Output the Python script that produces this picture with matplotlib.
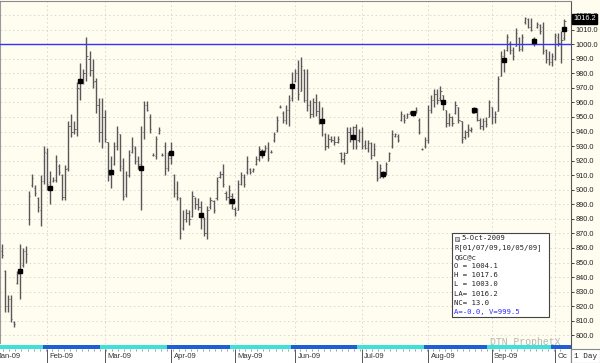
import matplotlib
matplotlib.use("Agg")
import matplotlib.pyplot as plt
import matplotlib.transforms as mtransforms
from matplotlib.patches import Rectangle
import numpy as np
import pandas as pd

# QGC@c daily bars, R[01/07/09,10/05/09]
holidays = ["2009-01-19", "2009-02-16", "2009-04-10", "2009-05-25", "2009-07-03", "2009-09-07"]

opens = [858, 858, 844, 820, 825, 809, 836, 842, 848, 858,
         880, 903, 901, 894, 886, 906, 925, 905, 906, 907,
         916, 910, 895, 915, 944, 940, 942, 969, 976, 980,
         990, 982, 975, 958, 940, 950, 933, 910, 918, 930,
         938, 915, 897, 910, 926, 929, 920, 918, 940, 958,
         950, 924, 923, 939, 924, 930, 915, 922, 910, 898,
         894, 874, 880, 884, 882, 894, 890, 888, 880, 870,
         888, 892, 894, 909, 911, 898, 895, 896, 887, 886,
         904, 909, 912, 914, 913, 918, 921, 927, 927, 929,
         926, 934, 941, 957, 953, 948, 955, 963, 975, 980,
         968, 982, 962, 958, 952, 960, 954, 948, 938, 930,
         935, 934, 933, 925, 921, 925, 940, 936, 943, 934,
         940, 931, 929, 932, 924, 920, 909, 912, 911, 920,
         930, 937, 937, 948, 951, 949, 952, 953, 953, 948,
         928, 930, 934, 955, 962, 966, 963, 965, 955, 946,
         950, 953, 957, 947, 936, 940, 941, 953, 955, 948,
         944, 947, 950, 957, 950, 954, 978, 992, 996, 1001,
         996, 999, 1004, 997, 1015, 1017, 1012, 1004, 1012, 1013,
         1012, 996, 990, 988, 990, 1005, 1000, 1004.1]

highs = [866, 863, 845, 828, 828, 810, 844, 863, 860, 861,
         899, 911, 903, 895, 910, 930, 929, 913, 909, 924,
         918, 911, 917, 947, 952, 947, 974, 987, 983, 1005,
         995, 990, 977, 963, 963, 955, 933, 923, 933, 944,
         938, 922, 913, 927, 936, 930, 923, 944, 961, 961,
         952, 925, 937, 943, 925, 933, 926, 933, 911, 906,
         895, 886, 887, 886, 899, 895, 894, 892, 881, 889,
         895, 893, 909, 913, 918, 899, 903, 898, 888, 907,
         912, 911, 923, 915, 915, 923, 930, 928, 931, 933,
         927, 940, 951, 958, 954, 958, 965, 981, 983, 989,
         991, 983, 983, 962, 963, 966, 961, 957, 939, 938,
         937, 937, 937, 926, 926, 943, 943, 944, 945, 942,
         943, 934, 934, 933, 932, 920, 918, 913, 919, 926,
         941, 939, 938, 954, 952, 953, 954, 954, 957, 949,
         929, 936, 958, 965, 969, 969, 971, 965, 955, 953,
         951, 961, 957, 947, 941, 945, 943, 957, 956, 949,
         949, 950, 962, 957, 954, 978, 995, 997, 1007, 1002,
         998, 1011, 1005, 1007, 1019, 1018, 1018, 1005, 1015, 1014,
         1015, 997, 995, 994, 1008, 1008, 1009, 1017.6]

lows = [852, 853, 816, 816, 809, 806, 835, 825, 847, 850,
        876, 902, 896, 885, 875, 904, 900, 890, 905, 905,
        910, 893, 893, 913, 936, 938, 937, 962, 973, 975,
        978, 970, 953, 933, 929, 933, 906, 901, 917, 927,
        913, 893, 895, 909, 925, 918, 914, 886, 935, 954,
        939, 923, 921, 938, 923, 910, 913, 918, 895, 893,
        866, 872, 878, 876, 881, 887, 886, 873, 868, 866,
        887, 884, 893, 908, 902, 893, 890, 887, 882, 886,
        903, 902, 911, 911, 912, 917, 920, 922, 926, 920,
        925, 933, 940, 956, 946, 945, 944, 961, 974, 962,
        968, 960, 954, 949, 950, 951, 945, 937, 927, 929,
        933, 931, 932, 919, 918, 925, 933, 928, 928, 933,
        928, 928, 926, 921, 923, 906, 908, 908, 910, 920,
        929, 936, 933, 947, 946, 949, 952, 951, 953, 938,
        927, 929, 932, 953, 957, 959, 961, 955, 943, 944,
        944, 952, 946, 932, 935, 936, 940, 953, 947, 942,
        941, 943, 950, 945, 946, 954, 978, 981, 995, 993,
        989, 999, 995, 995, 1014, 1011, 1009, 999, 1011, 1007,
        993, 987, 986, 985, 989, 999, 987, 1003.0]

closes = [856, 855, 820, 825, 811, 808, 842, 844, 858, 856,
          896, 908, 898, 888, 906, 926, 904, 902, 907, 920,
          912, 895, 914, 944, 940, 942, 970, 975, 980, 992,
          982, 974, 958, 940, 950, 935, 910, 912, 930, 940,
          916, 896, 910, 924, 930, 920, 918, 914, 958, 955,
          942, 924, 935, 941, 924, 915, 922, 925, 898, 895,
          870, 880, 884, 880, 896, 890, 888, 884, 870, 886,
          893, 886, 906, 911, 904, 895, 900, 890, 884, 904,
          910, 904, 920, 912, 914, 921, 928, 925, 929, 922,
          926, 938, 948, 957, 948, 955, 962, 970, 980, 966,
          985, 962, 958, 952, 960, 954, 948, 946, 930, 935,
          934, 933, 935, 921, 924, 940, 936, 943, 930, 940,
          930, 929, 932, 924, 928, 908, 915, 911, 918, 925,
          938, 938, 934, 952, 948, 952, 953, 952, 955, 940,
          928, 934, 955, 962, 966, 962, 968, 960, 946, 950,
          946, 958, 948, 935, 940, 942, 942, 955, 948, 944,
          947, 945, 960, 950, 952, 976, 992, 990, 1005, 996,
          992, 1008, 997, 1005, 1018, 1012, 1010, 1001, 1014, 1009,
          995, 990, 988, 992, 1006, 1001, 1003, 1016.2]

dates = pd.bdate_range("2009-01-07", "2009-10-05", freq="C", holidays=holidays)
x = np.arange(len(dates))
o, h, l, c = map(np.array, (opens, highs, lows, closes))

W, H = 600, 363
bg = "#fffcf0"
bar_col = "#585858"
grid_kw = dict(color="#d6d6cc", linestyle=(0, (2, 3)), linewidth=0.6)
xlim = (0.4, 189.2)

fig = plt.figure(figsize=(W / 100, H / 100), dpi=100, facecolor=bg)
ax = fig.add_axes([0, 19 / H, 571 / W, 343 / H], facecolor=bg)

# month boundaries
starts = np.array([0] + [i for i in range(1, len(dates)) if dates[i].month != dates[i - 1].month])
bounds = starts - 1.0
labels = [dates[i].strftime("%b-%y") for i in starts]
labels[-1] = labels[-1][:2]  # cut off by the right edge in the source

# OHLC bars
ax.vlines(x, l, h, color=bar_col, lw=1.0)
ax.hlines(o, x - 0.4, x, color=bar_col, lw=0.6)
ax.hlines(c, x, x + 0.4, color=bar_col, lw=0.6)

# squares every 10th bar back from the last one, at the bar midpoint
sq = x[::-1][::10]
ax.plot(sq, (h[sq] + l[sq]) / 2, "s", color="black", ms=3.0, zorder=4)

ax.axhline(1000, color="#3333ff", lw=1.0, zorder=3)

ax.set_xlim(*xlim)
ax.set_ylim(794.0, 1029.7)
ax.set_yticks(np.arange(800, 1021, 10))
ax.yaxis.set_major_formatter(matplotlib.ticker.FormatStrFormatter("%.1f"))
ax.yaxis.tick_right()
ax.tick_params(axis="y", direction="out", length=2.5, width=0.6, pad=0.8,
               labelsize=5.3, colors="#222222")
for t in ax.get_yticklabels():
  t.set_family("Liberation Sans")
ax.set_xticks(bounds[1:])
ax.tick_params(axis="x", length=0, labelbottom=False)
ax.grid(True, **grid_kw)
ax.set_axisbelow(True)
ax.spines["bottom"].set_visible(False)
ax.spines["top"].set_color("#8a8a8a")
ax.spines["left"].set_color("#9a9a9a")
ax.spines["right"].set_color("#555555")
for s in ax.spines.values():
  s.set_linewidth(0.8)

# last price tag
trans = mtransforms.blended_transform_factory(ax.transAxes, ax.transData)
ax.text(1.004, c[-1] + 1.2, "%.1f" % c[-1], transform=trans, ha="left", va="center",
        fontsize=5.3, family="Liberation Sans", color="white", clip_on=False, zorder=6,
        bbox=dict(boxstyle="square,pad=0.15", fc="black", ec="black"))

# date axis with month strip
axd = fig.add_axes([0, 0, 571 / W, 19 / H], facecolor="white")
axd.set_xlim(*xlim)
axd.set_ylim(0, 19)
axd.set_xticks([])
axd.set_yticks([])
for name, s in axd.spines.items():
  s.set_visible(name == "right")
axd.spines["right"].set_color("#555555")
axd.spines["right"].set_linewidth(0.8)
axd.add_patch(Rectangle((xlim[0], 14), xlim[1] - xlim[0], 5, fc=bg, ec="none"))
strip_edges = list(starts - 2.5) + [x[-1] + 5]
for k in range(len(starts)):
  col = "#3ee0dc" if k % 2 == 0 else "#1f5fd6"
  axd.broken_barh([(strip_edges[k], strip_edges[k + 1] - strip_edges[k])], (14, 4),
                  facecolors=col)
axd.vlines(x[::2] - 0.5, 11.8, 14, color="#777777", lw=0.5)
axd.vlines(bounds, 0, 14, color="#555555", lw=0.7)
for b, lab in zip(bounds, labels):
  axd.text(b + 0.8, 6.5, lab, fontsize=5.5, family="Liberation Sans", color="#333333",
           ha="left", va="center", clip_on=True)

# 1 Day box
fig.patches.append(Rectangle((571 / W, 0), 29 / W, 14 / H, transform=fig.transFigure,
                             fc="white", ec="#888888", lw=0.8))
fig.text(586 / W, 7 / H, "1 Day", fontsize=5.5, family="Liberation Mono",
         ha="center", va="center", color="#222222")

# info box
fig.patches.append(Rectangle((452 / W, 1 - 317 / H), 97 / W, 84 / H, transform=fig.transFigure,
                             fc="white", ec="#444444", lw=0.8, zorder=5))
fig.patches.append(Rectangle((455 / W, 1 - 241 / H), 4 / W, 4 / H, transform=fig.transFigure,
                             fc="#cccccc", ec="#666666", lw=0.5, hatch="////", zorder=6))
info = ["5-Oct-2009",
        "R[01/07/09,10/05/09]",
        "QGC@c",
        "O = %.1f" % o[-1],
        "H = %.1f" % h[-1],
        "L = %.1f" % l[-1],
        "LA= %.1f" % c[-1],
        "NC= 13.0",
        "A=-0.0, V=999.5"]
for k, line in enumerate(info):
  xp = 461 if k == 0 else 454.5
  fig.text(xp / W, 1 - (238.5 + 9.2 * k) / H, line, fontsize=5.2, family="DejaVu Sans Mono",
           ha="left", va="center", color="#3030ff" if k == len(info) - 1 else "#222222",
           zorder=7)

fig.text(490 / W, 1 - 342 / H, "DTN ProphetX", fontsize=7.0, family="Liberation Mono",
         color="#b5b5b5", ha="left", va="center")

fig.savefig("out.png", dpi=100, facecolor=bg)
